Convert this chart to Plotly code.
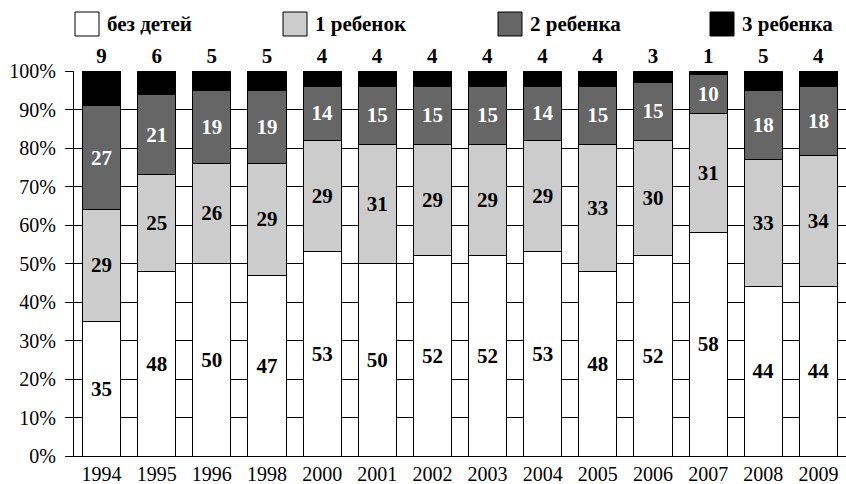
import plotly.graph_objects as go

years = ["1994", "1995", "1996", "1998", "2000", "2001", "2002", "2003",
         "2004", "2005", "2006", "2007", "2008", "2009"]
no_children = [35, 48, 50, 47, 53, 50, 52, 52, 53, 48, 52, 58, 44, 44]
one_child = [29, 25, 26, 29, 29, 31, 29, 29, 29, 33, 30, 31, 33, 34]
two_children = [27, 21, 19, 19, 14, 15, 15, 15, 14, 15, 15, 10, 18, 18]
three_children = [9, 6, 5, 5, 4, 4, 4, 4, 4, 4, 3, 1, 5, 4]
y_ticks = list(range(0, 101, 10))
y_tick_labels = [f"{v}%" for v in y_ticks]

series_names = ["без детей", "1 ребенок", "2 ребенка", "3 ребенка"]
series_values = [no_children, one_child, two_children, three_children]
series_colors = ["#ffffff", "#cccccc", "#666666", "#000000"]
text_colors = ["#000000", "#000000", "#ffffff", "#000000"]

FONT = "'Liberation Serif', 'DejaVu Serif', 'Times New Roman', serif"
W, H = 846, 484
ML, MR, MT, MB = 74, 0, 71, 28
PW = W - ML - MR
PH = H - MT - MB

fig = go.Figure()
for i, (name, vals, col, tcol) in enumerate(zip(series_names, series_values, series_colors, text_colors)):
    last = i == len(series_names) - 1
    fig.add_trace(go.Bar(
        x=years, y=vals, name=name,
        marker=dict(color=col, line=dict(color="#000000", width=1)),
        text=[str(v) for v in vals],
        textposition="outside" if last else "inside",
        insidetextanchor="middle",
        textangle=0,
        constraintext="none",
        cliponaxis=False,
        textfont=dict(family=FONT, size=21, color=tcol, weight="bold"),
        outsidetextfont=dict(family=FONT, size=21, color="#000000", weight="bold"),
        showlegend=False,
    ))

# custom legend (large boxes as in the reference)
legend_box_px = [75, 283, 498, 710]
shapes = []
annotations = []
for name, col, bx in zip(series_names, series_colors, legend_box_px):
    x0 = (bx - ML) / PW
    x1 = (bx + 24 - ML) / PW
    y0 = 1 + (MT - 36) / PH
    y1 = 1 + (MT - 12) / PH
    shapes.append(dict(type="rect", xref="paper", yref="paper",
                       x0=x0, x1=x1, y0=y0, y1=y1,
                       fillcolor=col, line=dict(color="#000000", width=1)))
    annotations.append(dict(xref="paper", yref="paper",
                            x=(bx + 30 - ML) / PW, y=1 + (MT - 24) / PH,
                            xanchor="left", yanchor="middle", showarrow=False,
                            text="<b>" + name + "</b>",
                            font=dict(family=FONT, size=21, color="#000000")))

fig.update_layout(
    width=W, height=H,
    margin=dict(l=ML, r=MR, t=MT, b=MB, pad=0),
    barmode="stack",
    bargap=0.31,
    plot_bgcolor="#ffffff",
    paper_bgcolor="#ffffff",
    font=dict(family=FONT, size=20, color="#000000"),
    shapes=shapes,
    annotations=annotations,
    xaxis=dict(
        type="category",
        showline=True, linecolor="#000000", linewidth=1,
        ticks="", showgrid=False,
        tickfont=dict(family=FONT, size=20, color="#000000"),
    ),
    yaxis=dict(
        range=[0, 100],
        tickmode="array",
        tickvals=y_ticks,
        ticktext=y_tick_labels,
        ticks="outside", ticklen=8, tickcolor="#000000",
        ticklabelstandoff=5,
        showline=True, linecolor="#000000", linewidth=1,
        showgrid=True, gridcolor="#000000", gridwidth=1,
        zeroline=False,
        tickfont=dict(family=FONT, size=20, color="#000000"),
    ),
)

fig.write_html("out.html", config={"displayModeBar": False},
               post_script="document.body.style.margin='0';document.body.style.padding='0';")
